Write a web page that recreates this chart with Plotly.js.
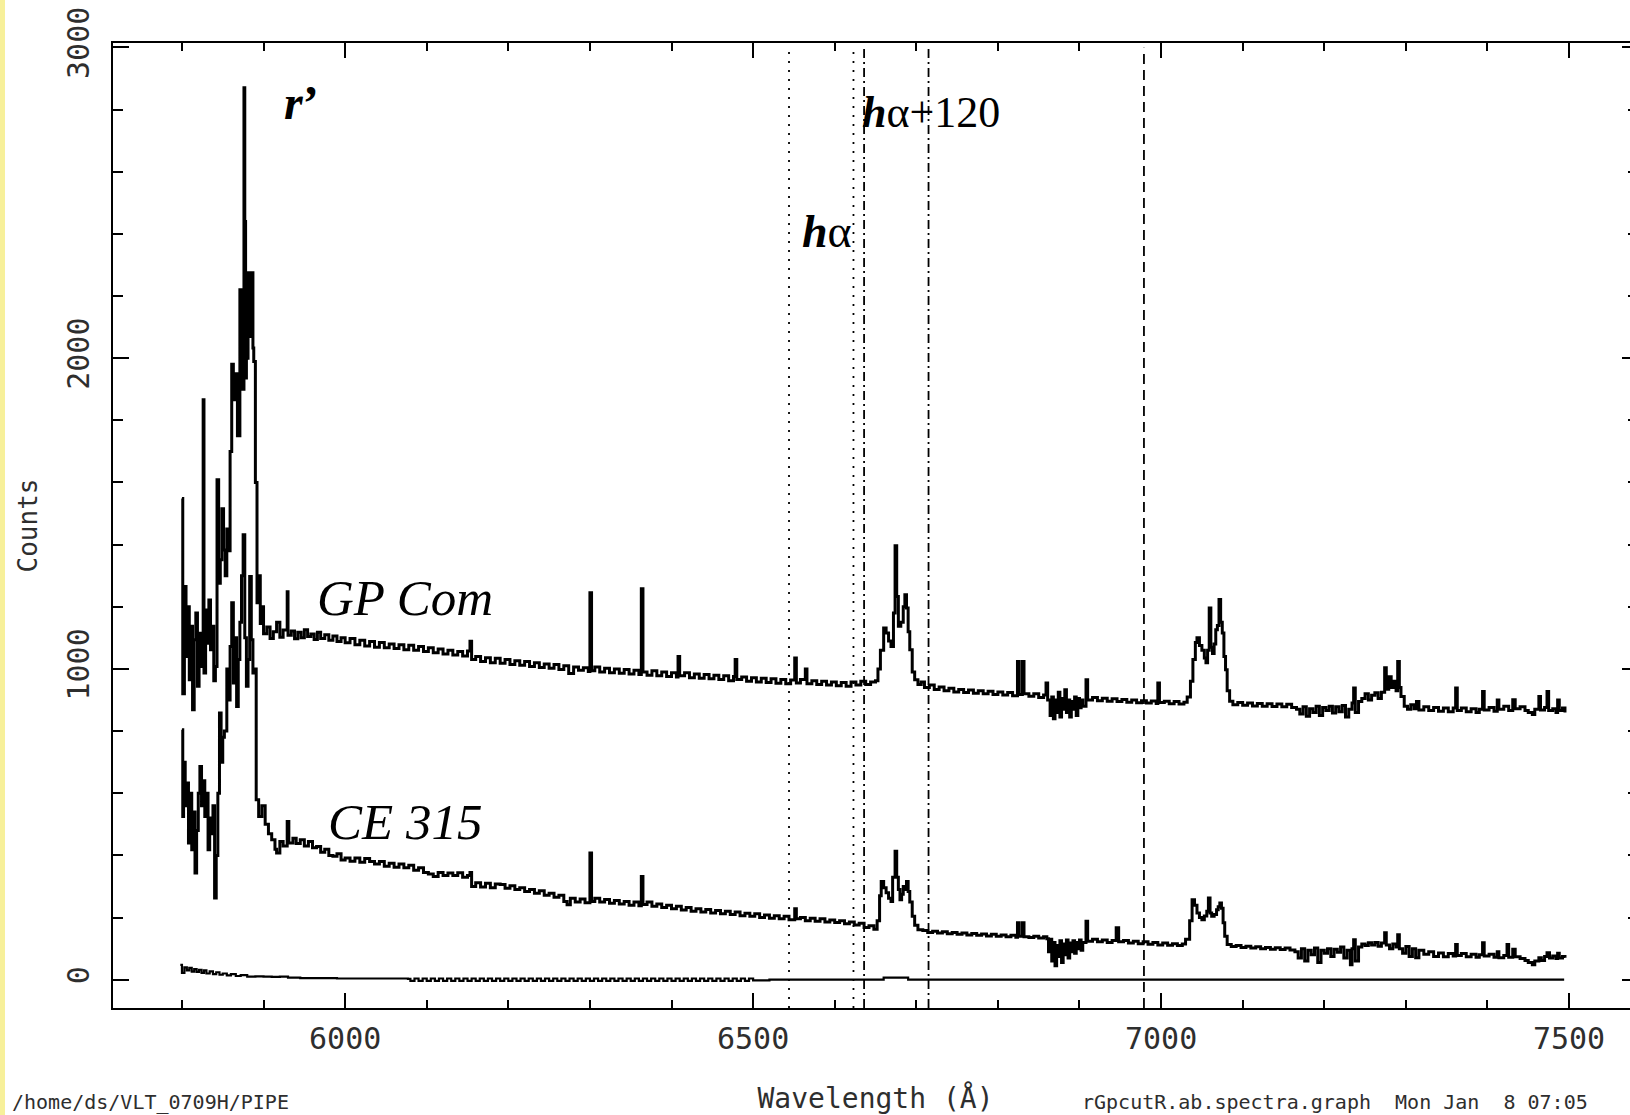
<!DOCTYPE html>
<html><head><meta charset="utf-8">
<script src="https://cdn.plot.ly/plotly-3.0.1.min.js"></script>
<style>
html,body{margin:0;padding:0;overflow:hidden;background:#fff;width:1630px;height:1115px}
#chart{position:absolute;left:0;top:0;width:1680px;height:1115px}
#strip{position:absolute;left:0;top:0;width:5px;height:1115px;background:#f7f09a;z-index:10}
</style></head>
<body><div id="chart"></div><div id="strip"></div>
<script>
// GP Com spectrum: [wavelength (Å), counts]
const gpCom = [
[5800,1548],[5801,920],[5803,1265],[5805,1040],[5807,1200],[5809,965],[5811,1137],[5813,869],[5815,1094],[5817,1180],[5819,944],[5821,1115],[5824,1008],[5826,1866],[5827,987],[5829,1190],[5831,1083],[5833,1222],[5835,1062],[5837,1137],[5839,962],[5841,1008],[5843,1609],[5845,1276],[5847,1351],[5849,1515],[5851,1383],[5853,1300],[5855,1450],[5857,1380],[5859,1700],[5861,1980],[5863,1866],[5865,1950],[5868,1750],[5871,2220],[5873,1900],[5876,2870],[5877,2440],[5878,1936],[5879,2000],[5881,2275],[5883,2070],[5885,2275],[5887,2033],[5888,1989],[5890,1600],[5892,1213],[5894,1300],[5896,1146],[5898,1200],
[5900,1113],[5904,1135],[5908,1098],[5912,1120],[5916,1150],[5920,1102],[5924,1125],[5929,1248],[5930,1108],[5934,1122],[5938,1097],[5942,1118],[5946,1100],[5950,1126],[5954,1104],[5958,1112],[5962,1095],[5966,1118],[5970,1098],[5975,1110],[5980,1092],[5985,1106],[5990,1088],[5995,1100],[6000,1084],[6006,1098],[6012,1078],[6018,1092],[6024,1074],[6030,1088],[6036,1070],[6042,1085],[6048,1068],[6054,1080],[6060,1066],[6066,1078],[6072,1062],[6078,1076],[6084,1060],[6090,1072],[6096,1056],[6102,1068],[6108,1052],[6114,1064],[6120,1048],[6126,1060],[6132,1045],[6138,1056],[6144,1042],[6150,1058],[6153,1089],[6155,1030],[6160,1040],[6166,1024],[6172,1036],[6178,1020],[6184,1034],[6190,1018],[6196,1030],[6202,1014],[6208,1026],[6214,1012],[6220,1024],[6226,1008],[6232,1020],[6238,1005],[6244,1016],[6250,1002],[6256,1014],[6262,998],[6268,1010],[6274,985],[6280,1006],[6286,996],[6292,1004],[6298,992],[6300,1245],[6302,994],[6306,1006],[6312,990],[6318,1002],[6324,988],[6330,1000],[6336,986],[6342,998],[6348,984],[6354,996],[6360,982],[6363,1258],[6365,990],[6370,980],[6376,994],[6382,978],[6388,990],[6394,976],[6400,988],[6406,974],[6408,1040],[6410,978],[6416,988],[6422,972],[6428,984],[6434,970],[6440,982],[6446,968],[6452,980],[6458,966],[6464,978],[6470,962],[6476,976],[6478,1030],[6480,966],[6486,974],[6492,960],[6498,972],[6504,958],[6510,970],[6516,956],[6522,968],[6528,954],[6534,966],[6540,952],[6546,964],[6551,1035],[6553,955],[6558,966],[6564,1000],[6566,952],[6572,962],[6578,950],[6584,960],[6590,948],[6596,958],[6602,946],[6608,956],[6614,944],[6620,958],[6626,948],[6632,960],[6638,950],[6644,958],[6650,962],
[6653,1000],[6656,1060],[6660,1132],[6663,1116],[6666,1090],[6669,1072],[6672,1180],[6674,1396],[6676,1233],[6678,1137],[6681,1150],[6684,1200],[6686,1239],[6688,1196],[6690,1120],[6692,1062],[6695,990],[6698,965],[6702,950],[6706,958],[6710,940],[6716,948],[6722,934],[6728,942],[6734,930],[6740,938],[6746,926],[6752,934],[6758,924],[6764,932],[6770,922],[6776,930],[6782,920],[6788,928],[6794,918],[6800,926],[6806,916],[6812,924],[6818,914],[6824,1024],[6826,918],[6830,1024],[6832,920],[6838,912],[6844,920],[6850,908],[6856,916],[6859,955],[6861,900],
[6864,850],[6866,910],[6868,840],[6870,900],[6872,860],[6874,925],[6876,845],[6878,905],[6880,870],[6882,933],[6884,860],[6886,900],[6888,845],[6890,895],[6892,870],[6894,910],[6896,850],[6898,905],[6900,875],[6902,900],[6904,880],[6908,965],[6910,900],[6916,908],[6922,898],[6928,906],[6934,896],[6940,904],[6946,895],[6952,902],[6958,893],[6964,900],[6970,891],[6976,898],[6982,890],[6988,897],[6994,889],[6996,955],[6998,892],[7004,896],[7010,888],[7016,895],[7022,887],[7028,893],
[7032,910],[7036,960],[7039,1030],[7042,1085],[7044,1100],[7047,1075],[7050,1060],[7053,1035],[7055,1020],[7057,1060],[7059,1196],[7061,1070],[7063,1050],[7065,1080],[7067,1126],[7069,1140],[7071,1223],[7073,1150],[7075,1116],[7077,1040],[7079,997],[7081,930],[7084,896],[7088,885],[7094,892],[7100,883],[7106,890],[7112,881],[7118,889],[7124,880],[7130,888],[7136,879],[7142,887],[7148,878],[7154,886],[7160,876],[7166,870],[7170,855],[7174,878],[7178,848],[7182,872],[7186,860],[7190,880],[7194,850],[7198,876],[7202,866],[7206,880],[7210,858],[7214,878],[7218,862],[7222,882],[7226,845],[7230,870],[7234,890],[7236,939],[7238,860],[7242,895],[7246,905],[7250,920],[7254,900],[7258,915],[7262,923],[7266,905],[7270,925],[7274,1004],[7276,935],[7279,975],[7282,940],[7285,960],[7288,930],[7290,1024],[7292,940],[7294,911],[7298,880],[7302,870],[7306,885],[7310,872],[7313,895],[7316,868],[7322,878],[7328,866],[7334,876],[7340,864],[7346,874],[7352,862],[7358,874],[7361,939],[7363,866],[7368,874],[7374,862],[7380,872],[7386,860],[7390,870],[7394,927],[7396,868],[7402,876],[7408,864],[7412,900],[7414,870],[7420,880],[7426,866],[7431,901],[7434,872],[7440,878],[7446,866],[7450,860],[7455,853],[7458,870],[7463,911],[7465,868],[7470,876],[7473,927],[7475,866],[7480,872],[7484,860],[7486,900],[7488,866],[7492,874],[7495,860]
];

// CE 315 spectrum: [wavelength (Å), counts]
const ce315 = [
[5800,804],[5801,525],[5802,700],[5804,560],[5806,633],[5808,440],[5810,600],[5812,418],[5814,540],[5816,343],[5818,480],[5820,600],[5822,686],[5824,560],[5826,640],[5828,525],[5830,600],[5832,418],[5834,520],[5836,470],[5838,560],[5840,263],[5842,400],[5844,600],[5846,858],[5848,700],[5850,780],[5852,800],[5855,1000],[5857,900],[5859,1072],[5861,1213],[5863,955],[5865,1100],[5867,879],[5869,1030],[5871,1150],[5873,1300],[5875,1432],[5877,1100],[5879,944],[5881,1030],[5883,1297],[5885,1094],[5887,987],[5889,1000],[5891,579],[5894,525],[5898,560],
[5902,500],[5906,470],[5910,450],[5914,420],[5916,408],[5920,445],[5924,430],[5929,509],[5931,440],[5936,455],[5940,438],[5945,450],[5950,430],[5955,445],[5960,425],[5965,429],[5970,410],[5975,420],[5980,400],[5985,397],[5990,405],[5995,385],[6000,392],[6006,381],[6012,392],[6018,378],[6024,390],[6030,380],[6036,372],[6042,380],[6048,365],[6054,375],[6060,362],[6066,372],[6072,360],[6078,368],[6084,352],[6090,360],[6096,345],[6102,340],[6108,332],[6114,345],[6120,335],[6126,343],[6132,335],[6138,344],[6144,330],[6150,335],[6153,345],[6155,300],[6160,312],[6166,298],[6172,310],[6178,296],[6184,308],[6190,306],[6196,294],[6202,302],[6208,290],[6214,296],[6220,284],[6226,290],[6232,278],[6238,286],[6244,272],[6250,278],[6256,265],[6262,272],[6268,252],[6272,241],[6276,262],[6282,250],[6288,260],[6294,248],[6300,408],[6302,252],[6306,262],[6312,250],[6318,258],[6324,246],[6330,255],[6336,244],[6342,252],[6348,240],[6354,250],[6360,238],[6363,332],[6365,242],[6370,250],[6376,236],[6382,244],[6388,232],[6394,240],[6400,228],[6406,236],[6412,224],[6418,232],[6424,220],[6430,228],[6436,218],[6442,226],[6448,215],[6454,223],[6460,212],[6466,220],[6472,210],[6478,218],[6484,206],[6490,214],[6496,204],[6502,212],[6508,200],[6514,208],[6520,198],[6526,206],[6532,196],[6538,204],[6544,193],[6551,228],[6553,196],[6558,200],[6564,190],[6570,198],[6576,188],[6582,196],[6588,186],[6594,192],[6600,184],[6606,190],[6612,180],[6618,186],[6624,176],[6630,182],[6636,168],[6642,174],[6648,162],
[6652,190],[6655,270],[6657,316],[6660,296],[6663,280],[6666,262],[6669,252],[6671,330],[6674,413],[6676,330],[6678,290],[6680,257],[6682,275],[6684,300],[6686,290],[6688,316],[6690,284],[6692,250],[6695,204],[6698,175],[6702,161],[6708,158],[6714,152],[6720,156],[6726,150],[6732,154],[6738,148],[6744,152],[6750,146],[6756,150],[6762,144],[6768,149],[6774,143],[6780,147],[6786,141],[6792,146],[6798,140],[6804,144],[6810,138],[6816,143],[6822,137],[6824,183],[6826,140],[6830,183],[6832,138],[6838,136],[6844,140],[6850,134],[6856,138],[6860,132],
[6862,90],[6864,130],[6866,60],[6868,120],[6870,45],[6872,110],[6874,75],[6876,125],[6878,55],[6880,115],[6882,80],[6884,128],[6886,70],[6888,118],[6890,90],[6892,125],[6894,85],[6896,120],[6898,100],[6900,128],[6902,95],[6904,120],[6908,188],[6910,124],[6916,130],[6922,122],[6928,128],[6934,120],[6940,126],[6945,167],[6948,122],[6954,126],[6960,118],[6966,124],[6972,116],[6978,122],[6984,114],[6990,120],[6996,112],[7002,118],[7008,111],[7014,116],[7020,110],[7026,115],
[7030,130],[7035,190],[7038,257],[7041,240],[7044,215],[7047,200],[7050,193],[7053,205],[7056,220],[7058,263],[7060,215],[7062,204],[7065,210],[7068,225],[7070,235],[7072,247],[7074,230],[7076,183],[7078,140],[7081,113],[7086,107],[7092,110],[7098,104],[7104,108],[7110,102],[7116,106],[7122,100],[7128,104],[7134,98],[7140,103],[7146,97],[7152,102],[7158,96],[7164,90],[7168,70],[7172,100],[7176,60],[7180,95],[7184,80],[7188,102],[7192,55],[7196,95],[7200,85],[7204,100],[7208,75],[7212,98],[7216,88],[7220,105],[7224,70],[7228,95],[7232,48],[7234,100],[7236,129],[7238,60],[7242,105],[7246,115],[7250,110],[7254,119],[7258,112],[7262,120],[7266,108],[7270,118],[7274,151],[7276,112],[7280,100],[7284,115],[7288,105],[7290,145],[7292,100],[7296,85],[7300,107],[7304,75],[7308,100],[7312,71],[7316,95],[7322,82],[7328,90],[7334,75],[7340,86],[7346,74],[7352,84],[7358,76],[7361,113],[7363,78],[7368,84],[7374,74],[7380,82],[7386,72],[7390,80],[7394,119],[7396,76],[7402,82],[7408,72],[7412,90],[7414,71],[7420,78],[7424,113],[7426,72],[7431,98],[7434,74],[7440,68],[7446,62],[7450,55],[7455,48],[7458,60],[7463,71],[7466,62],[7470,75],[7473,87],[7476,70],[7480,76],[7484,68],[7486,85],[7488,70],[7492,75],[7495,71]
];

// near-zero (sky / error) spectrum: [wavelength (Å), counts]
const skySpec = [
[5798,48],[5800,22],[5803,40],[5806,30],[5809,38],[5812,26],[5815,34],[5818,25],[5821,32],[5824,22],[5827,30],[5830,20],[5834,27],[5838,18],[5842,24],[5846,16],[5850,20],[5855,14],[5860,18],[5866,12],[5872,15],[5880,10],[5890,11],[5900,10],[5910,9],[5920,10],[5930,7],[5945,5],[5960,5],[5990,4],[6030,4],[6077,3],
[6080,-4],[6085,4],[6090,-4],[6095,4],[6100,-4],[6105,4],[6110,-4],[6115,4],[6120,-4],[6125,4],[6130,-4],[6135,4],[6140,-4],[6145,4],[6150,-4],[6155,4],[6160,-4],[6165,4],[6170,-4],[6175,4],[6180,-4],[6185,4],[6190,-4],[6195,4],[6200,-4],[6205,4],[6210,-4],[6215,4],[6220,-4],[6225,4],[6230,-4],[6235,4],[6240,-4],[6245,4],[6250,-4],[6255,4],[6260,-4],[6265,4],[6270,-4],[6275,4],[6280,-4],[6285,4],[6290,-4],[6295,4],[6300,-4],[6305,4],[6310,-4],[6315,4],[6320,-4],[6325,4],[6330,-4],[6335,4],[6340,-4],[6345,4],[6350,-4],[6355,4],[6360,-4],[6365,4],[6370,-4],[6375,4],[6380,-4],[6385,4],[6390,-4],[6395,4],[6400,-4],[6405,4],[6410,-4],[6415,4],[6420,-4],[6425,4],[6430,-4],[6435,4],[6440,-4],[6445,4],[6450,-4],[6455,4],[6460,-4],[6465,4],[6470,-4],[6475,4],[6480,-4],[6485,4],[6490,-4],[6495,4],[6500,-2],
[6520,0],[6600,0],[6660,7],[6690,0],[6800,0],[6900,0],[7000,0],[7200,0],[7400,0],[7494,0]
];

// marker lines: wavelengths (Å) and their dash kinds
const markerWaves = [6544, 6623, 6636, 6715, 6979];
const markerKinds = ['dot', 'dot', 'dashdot', 'dashdot', 'dash'];

const xTickVals = [6000, 6500, 7000, 7500];
const yTickVals = [0, 1000, 2000, 3000];

const dashMap = {dot: '2px,7px', dashdot: '9px,4px,2px,4px', dash: '10px,6px'};
const mono = 'DejaVu Sans Mono, monospace';
const serif = 'Liberation Serif, Times New Roman, serif';
const lblColor = '#2e2e2e';

function mk(arr, w) {
  return {x: arr.map(p => p[0]), y: arr.map(p => p[1]), type: 'scatter', mode: 'lines',
    line: {color: '#000', width: w, shape: 'hv'}, hoverinfo: 'skip'};
}
const traces = [mk(gpCom, 3), mk(ce315, 3), mk(skySpec, 2.2)];

const shapes = markerWaves.map((w, i) => ({
  type: 'line', xref: 'x', yref: 'paper', x0: w, x1: w, y0: 0, y1: 0.995,
  line: {color: '#000', width: 1.8, dash: dashMap[markerKinds[i]]}
}));

const annotations = [
  {x: 5947, y: 2822, xref: 'x', yref: 'y', text: '<b><i>r</i></b><b>’</b>', showarrow: false,
   font: {family: serif, size: 48, color: '#000'}},
  {x: 6591, y: 2407, xref: 'x', yref: 'y', text: '<b><i>h</i></b>α', showarrow: false,
   font: {family: serif, size: 46, color: '#000'}},
  {x: 6718, y: 2790, xref: 'x', yref: 'y', text: '<b><i>h</i></b>α+120', showarrow: false,
   font: {family: serif, size: 44, color: '#000'}},
  {x: 6073, y: 1229, xref: 'x', yref: 'y', text: '<i>GP Com</i>', showarrow: false,
   font: {family: serif, size: 51, color: '#000'}},
  {x: 6073, y: 508, xref: 'x', yref: 'y', text: '<i>CE 315</i>', showarrow: false,
   font: {family: serif, size: 51, color: '#000'}},
  {x: -0.0676, y: -0.0826, xref: 'paper', yref: 'paper', xanchor: 'left', yanchor: 'top',
   text: '/home/ds/VLT_0709H/PIPE', showarrow: false, font: {family: mono, size: 20, color: lblColor}},
  {x: 0.634, y: -0.0826, xref: 'paper', yref: 'paper', xanchor: 'left', yanchor: 'top',
   text: 'rGpcutR.ab.spectra.graph  Mon Jan  8 07:05', showarrow: false, font: {family: mono, size: 20, color: lblColor}}
];

const layout = {
  width: 1680, height: 1115,
  margin: {l: 113, r: 42, t: 43, b: 107},
  paper_bgcolor: '#fff', plot_bgcolor: '#fff',
  showlegend: false,
  xaxis: {
    range: [5715.5, 7584.5], showline: true, linecolor: '#000', linewidth: 2, mirror: 'allticks',
    ticks: 'inside', ticklen: 15, tickwidth: 2, tickcolor: '#000',
    tickmode: 'array', tickvals: xTickVals, ticktext: xTickVals.map(String),
    minor: {dtick: 100, tick0: 0, ticks: 'inside', ticklen: 8, tickwidth: 2, tickcolor: '#000', showgrid: false},
    showgrid: false, zeroline: false, ticklabelstandoff: 3,
    tickfont: {family: mono, size: 30, color: lblColor},
    title: {text: 'Wavelength (Å)', font: {family: mono, size: 28, color: lblColor}, standoff: 42}
  },
  yaxis: {
    range: [-91, 3014], showline: true, linecolor: '#000', linewidth: 2, mirror: 'allticks',
    ticks: 'inside', ticklen: 16, tickwidth: 2, tickcolor: '#000',
    tickmode: 'array', tickvals: yTickVals, ticktext: yTickVals.map(String), tickangle: -90,
    minor: {dtick: 200, tick0: 0, ticks: 'inside', ticklen: 10, tickwidth: 2, tickcolor: '#000', showgrid: false},
    showgrid: false, zeroline: false, ticklabelstandoff: 10,
    tickfont: {family: mono, size: 30, color: lblColor},
    title: {text: 'Counts', font: {family: mono, size: 26, color: lblColor}, standoff: 16}
  },
  shapes: shapes,
  annotations: annotations
};

Plotly.newPlot('chart', traces, layout, {staticPlot: true, displayModeBar: false});
</script></body></html>
